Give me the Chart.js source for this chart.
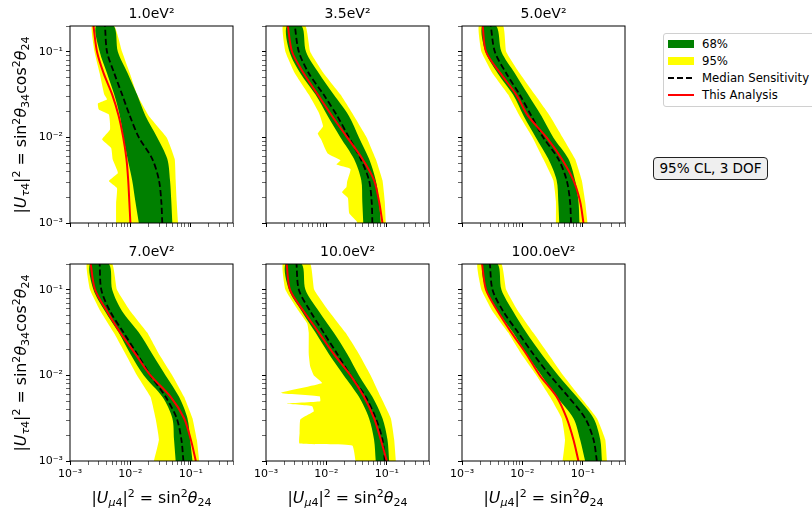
<!DOCTYPE html>
<html>
<head>
<meta charset="utf-8">
<script src="https://cdn.jsdelivr.net/npm/chart.js@4.4.1/dist/chart.umd.min.js"></script>
<style>
  body { margin: 0; width: 812px; height: 512px; position: relative; overflow: hidden; background: #fff;
         font-family: 'DejaVu Sans', sans-serif; color: #000; }
  canvas { position: absolute; }
  .lab { position: absolute; font-size: 15.8px; white-space: nowrap; line-height: 1; }
  .ylab { transform: translate(-50%, -50%) rotate(-90deg); }
  .xlab { transform: translate(-50%, -50%); }
  .lab sub, .lab sup { font-size: 70%; line-height: 0; }
  .lab sup { vertical-align: 0.55em; }
  .lab sub { vertical-align: -0.3em; }
  #legend { position: absolute; left: 663px; top: 33px; width: 152px; height: 72px;
            border: 1px solid #d0d0d0; border-radius: 3px; background: #fff; font-size: 11.7px; }
  #legend .row { position: absolute; left: 38px; transform: translateY(-50%); white-space: nowrap; }
  #legend .sw { position: absolute; left: 4px; width: 25.5px; }
  #cl { position: absolute; left: 653px; top: 157px; width: 113px; height: 21px; border: 1px solid #222;
        border-radius: 4px; background: #efefef; font-size: 13.6px; line-height: 21px; text-align: center; }
</style>
</head>
<body>
<div id="legend">
  <div class="sw" style="top:5.5px;height:8.5px;background:green"></div><div class="row" style="top:9.7px">68%</div>
  <div class="sw" style="top:22.8px;height:8.5px;background:yellow"></div><div class="row" style="top:27px">95%</div>
  <div class="sw" style="top:43.3px;height:1.8px;background:repeating-linear-gradient(90deg,#000 0 6px,transparent 6px 9px)"></div><div class="row" style="top:44.3px">Median Sensitivity</div>
  <div class="sw" style="top:60px;height:1.8px;background:red"></div><div class="row" style="top:61px">This Analysis</div>
</div>
<div id="cl">95% CL, 3 DOF</div>
<script>
// panel titles (sterile mass splitting)
const massLabels = ['1.0eV²', '3.5eV²', '5.0eV²', '7.0eV²', '10.0eV²', '100.0eV²'];

// |U_tau4|^2 levels at which the curves were read (bottom -> top)
const yLevels = [0.001, 0.00178, 0.00316, 0.00562, 0.01, 0.0178, 0.0316, 0.0562, 0.1, 0.2];

// |U_mu4|^2 values at each yLevel, one row per panel
const median = [
  [0.0337, 0.0325, 0.0297, 0.0230, 0.0138, 0.0098, 0.0073, 0.0054, 0.0041, 0.0038],
  [0.0577, 0.0562, 0.0508, 0.0369, 0.0236, 0.0151, 0.0090, 0.0051, 0.0035, 0.0030],
  [0.0639, 0.0615, 0.0541, 0.0393, 0.0221, 0.0141, 0.0090, 0.0054, 0.0035, 0.0030],
  [0.0755, 0.0699, 0.0584, 0.0383, 0.0215, 0.0129, 0.0077, 0.0046, 0.0033, 0.0031],
  [0.0926, 0.0848, 0.0656, 0.0447, 0.0251, 0.0151, 0.0090, 0.0054, 0.0035, 0.0032],
  [0.1711, 0.1506, 0.1094, 0.0577, 0.0286, 0.0151, 0.0085, 0.0048, 0.0032, 0.0029]
];
const observed = [
  [0.0100, 0.0096, 0.0092, 0.0086, 0.0076, 0.0064, 0.0050, 0.0036, 0.0028, 0.00245],
  [0.0848, 0.0745, 0.0615, 0.0393, 0.0221, 0.0124, 0.0072, 0.0042, 0.0027, 0.0023],
  [0.1026, 0.0903, 0.0699, 0.0447, 0.0251, 0.0124, 0.0079, 0.0043, 0.0025, 0.0022],
  [0.1212, 0.1000, 0.0774, 0.0464, 0.0215, 0.0121, 0.0068, 0.0041, 0.0026, 0.0022],
  [0.1000, 0.0794, 0.0615, 0.0419, 0.0251, 0.0132, 0.0075, 0.0042, 0.0025, 0.0022],
  [0.0848, 0.0699, 0.0541, 0.0369, 0.0194, 0.0116, 0.0066, 0.0039, 0.0025, 0.00215]
];
const band68Lo = [
  [0.0138, 0.0121, 0.0107, 0.0090, 0.0077, 0.0067, 0.0054, 0.0041, 0.0031, 0.0027],
  [0.0408, 0.0393, 0.0378, 0.0286, 0.0171, 0.0105, 0.0066, 0.0037, 0.00245, 0.0022],
  [0.0408, 0.0393, 0.0369, 0.0268, 0.0167, 0.0105, 0.0070, 0.0039, 0.00245, 0.00215],
  [0.0562, 0.0528, 0.0495, 0.0338, 0.0167, 0.0100, 0.0064, 0.0038, 0.00245, 0.00215],
  [0.0656, 0.0615, 0.0508, 0.0346, 0.0194, 0.0110, 0.0066, 0.0039, 0.0024, 0.0021],
  [0.1094, 0.0903, 0.0699, 0.0369, 0.0207, 0.0116, 0.0070, 0.0039, 0.0025, 0.0022]
];
const band68Hi = [
  [0.0495, 0.0476, 0.0453, 0.0408, 0.0278, 0.0178, 0.0129, 0.0090, 0.0062, 0.0053],
  [0.0794, 0.0745, 0.0656, 0.0508, 0.0346, 0.0236, 0.0132, 0.0075, 0.0046, 0.0039],
  [0.0880, 0.0848, 0.0745, 0.0577, 0.0325, 0.0207, 0.0124, 0.0075, 0.0045, 0.0037],
  [0.1066, 0.0975, 0.0880, 0.0639, 0.0383, 0.0230, 0.0138, 0.0073, 0.0050, 0.0044],
  [0.1094, 0.1026, 0.0848, 0.0577, 0.0346, 0.0221, 0.0132, 0.0075, 0.0045, 0.0039],
  [0.2074, 0.1945, 0.1506, 0.0794, 0.0393, 0.0207, 0.0116, 0.0070, 0.0045, 0.0039]
];
const band95Hi = [
  [0.0615, 0.0584, 0.0562, 0.0541, 0.0398, 0.0202, 0.0129, 0.0098, 0.0073, 0.0054],
  [0.0962, 0.0926, 0.0848, 0.0656, 0.0464, 0.0286, 0.0171, 0.0090, 0.0054, 0.0045],
  [0.1197, 0.1094, 0.0962, 0.0745, 0.0464, 0.0286, 0.0161, 0.0090, 0.0054, 0.0048],
  [0.1377, 0.1259, 0.1066, 0.0774, 0.0495, 0.0297, 0.0190, 0.0100, 0.0060, 0.0050],
  [0.1413, 0.1325, 0.1166, 0.0794, 0.0541, 0.0346, 0.0207, 0.0110, 0.0063, 0.0054],
  [0.2512, 0.2357, 0.1711, 0.0903, 0.0476, 0.0268, 0.0151, 0.0085, 0.0054, 0.0045]
];
// lower edge of the 95% band is ragged, so it keeps its own [x, y] points (bottom -> top)
const band95Lo = [
  [[0.0058, 0.001], [0.0058, 0.0017], [0.0060, 0.00256], [0.0044, 0.0031], [0.0062, 0.00385], [0.0051, 0.0055],
   [0.0048, 0.0075], [0.0034, 0.0095], [0.0046, 0.0124], [0.0044, 0.0185], [0.0030, 0.0212], [0.0029, 0.0249],
   [0.0041, 0.0277], [0.0037, 0.0316], [0.0031, 0.0562], [0.00255, 0.1], [0.0023, 0.2]],
  [[0.0325, 0.001], [0.0316, 0.00105], [0.0239, 0.0013], [0.0227, 0.00196], [0.0182, 0.00229], [0.0215, 0.00263],
   [0.0221, 0.00307], [0.0251, 0.00428], [0.0147, 0.00481], [0.0171, 0.00541], [0.0105, 0.00648], [0.0082, 0.00945],
   [0.0072, 0.0111], [0.0088, 0.0135], [0.0075, 0.0194], [0.0051, 0.0316], [0.0030, 0.0562], [0.0021, 0.1], [0.0019, 0.2]],
  [[0.0359, 0.001], [0.0359, 0.00178], [0.0325, 0.00316], [0.0221, 0.00562], [0.0147, 0.01], [0.0090, 0.0178],
   [0.0058, 0.0316], [0.0032, 0.0562], [0.0021, 0.1], [0.0019, 0.2]],
  [[0.0245, 0.001], [0.0297, 0.00178], [0.0261, 0.00316], [0.0215, 0.00562], [0.0129, 0.01], [0.0083, 0.0178],
   [0.0053, 0.0316], [0.0032, 0.0562], [0.00215, 0.1], [0.0019, 0.2]],
  [[0.0304, 0.001], [0.0268, 0.00152], [0.0036, 0.0016], [0.0036, 0.00213], [0.0037, 0.00305], [0.0054, 0.00358],
   [0.0062, 0.00381], [0.0058, 0.00437], [0.0021, 0.00469], [0.0079, 0.00499], [0.0077, 0.00571], [0.00175, 0.00624],
   [0.0085, 0.00815], [0.0062, 0.01], [0.0054, 0.0127], [0.0051, 0.0178], [0.0051, 0.0316], [0.0048, 0.0406],
   [0.0035, 0.0562], [0.0021, 0.1], [0.0019, 0.2]],
  [[0.0464, 0.001], [0.0508, 0.00178], [0.0447, 0.00316], [0.0286, 0.00562], [0.0171, 0.01], [0.0096, 0.0178],
   [0.0058, 0.0316], [0.0032, 0.0562], [0.0021, 0.1], [0.0018, 0.2]]
];

const majorTicks = [0.001, 0.01, 0.1];
const tickLabels = ['10⁻³', '10⁻²', '10⁻¹'];

// layout
const plotLeft = [70, 266, 462];
const plotTop = [26, 264];
const plotW = 163, plotH = 197;
const padL = 50, padR = 6, padT = 30, padB = 26;
const font = "'DejaVu Sans', sans-serif";

function logTicks(min, max) {
  const out = [];
  for (let e = -3; e <= 0; e++) {
    for (let m = 1; m <= 9; m++) {
      const v = +(m * Math.pow(10, e)).toPrecision(3);
      if (v >= min * 0.999 && v <= max * 1.001) out.push({ value: v, major: m === 1 });
    }
  }
  return out;
}

function tickLabel(v) {
  const i = majorTicks.findIndex(t => Math.abs(t - v) < t * 1e-6);
  return i >= 0 ? tickLabels[i] : '';
}

function axis(min, max, showLabels, fit) {
  return {
    type: 'logarithmic',
    min: min,
    max: max,
    afterBuildTicks: s => { s.ticks = logTicks(min, max); },
    afterFit: fit,
    grid: {
      drawOnChartArea: false,
      tickLength: 4,
      tickColor: '#000',
      tickWidth: c => (c.tick && c.tick.major) ? 1 : 0.6
    },
    border: { display: false },
    ticks: {
      autoSkip: false, maxRotation: 0, minRotation: 0, padding: 3, color: '#000',
      font: { family: font, size: 11 },
      callback: v => showLabels ? tickLabel(v) : ''
    }
  };
}

const frame = {
  id: 'frame',
  afterDraw(chart) {
    const { ctx, chartArea: a } = chart;
    ctx.save();
    ctx.strokeStyle = '#000';
    ctx.lineWidth = 1;
    ctx.strokeRect(a.left, a.top, a.right - a.left, a.bottom - a.top);
    ctx.restore();
  }
};

const atLevels = xs => xs.map((x, k) => ({ x: x, y: yLevels[k] }));

for (let i = 0; i < 6; i++) {
  const col = i % 3, row = Math.floor(i / 3);
  const cv = document.createElement('canvas');
  cv.width = padL + plotW + padR;
  cv.height = padT + plotH + padB;
  cv.style.left = (plotLeft[col] - padL) + 'px';
  cv.style.top = (plotTop[row] - padT) + 'px';
  cv.style.width = cv.width + 'px';
  cv.style.height = cv.height + 'px';
  document.body.appendChild(cv);

  const poly68 = atLevels(band68Lo[i]).concat(atLevels(band68Hi[i]).reverse());
  const poly95 = band95Lo[i].map(p => ({ x: p[0], y: p[1] })).concat(atLevels(band95Hi[i]).reverse());

  new Chart(cv.getContext('2d'), {
    type: 'line',
    data: {
      datasets: [
        { label: 'This Analysis', data: atLevels(observed[i]), borderColor: 'red', borderWidth: 2,
          tension: 0.3, fill: false, order: 1 },
        { label: 'Median Sensitivity', data: atLevels(median[i]), borderColor: '#000', borderWidth: 1.8,
          borderDash: [6, 3], tension: 0.3, fill: false, order: 2 },
        { label: '68%', data: poly68, borderColor: 'green', borderWidth: 0, backgroundColor: 'green',
          tension: 0.3, fill: 'shape', order: 3 },
        { label: '95%', data: poly95, borderColor: 'yellow', borderWidth: 0, backgroundColor: 'yellow',
          tension: 0.12, fill: 'shape', order: 4 }
      ]
    },
    options: {
      responsive: false,
      animation: false,
      devicePixelRatio: 1,
      layout: { padding: { left: 0, top: 0, right: padR, bottom: 0 } },
      elements: { point: { radius: 0 } },
      plugins: {
        legend: { display: false },
        tooltip: { enabled: false },
        title: {
          display: true, fullSize: false, text: massLabels[i], color: '#000',
          font: { family: font, size: 14, weight: 'normal' },
          padding: { top: 10, bottom: 3.2 }
        }
      },
      scales: {
        x: axis(0.001, 0.5, row === 1, s => { s.height = padB; }),
        y: axis(0.001, 0.2, col === 0, s => { s.width = padL; })
      }
    },
    plugins: [frame]
  });
}

// axis titles
const yTitle = '|<i>U</i><sub><i>τ</i>4</sub>|<sup>2</sup> = sin<sup>2</sup><i>θ</i><sub>34</sub>cos<sup>2</sup><i>θ</i><sub>24</sub>';
const xTitle = '|<i>U</i><sub><i>μ</i>4</sub>|<sup>2</sup> = sin<sup>2</sup><i>θ</i><sub>24</sub>';
for (let r = 0; r < 2; r++) {
  const d = document.createElement('div');
  d.className = 'lab ylab';
  d.innerHTML = yTitle;
  d.style.left = '21px';
  d.style.top = (plotTop[r] + plotH / 2) + 'px';
  document.body.appendChild(d);
}
for (let c = 0; c < 3; c++) {
  const d = document.createElement('div');
  d.className = 'lab xlab';
  d.innerHTML = xTitle;
  d.style.left = (plotLeft[c] + plotW / 2) + 'px';
  d.style.top = '498px';
  document.body.appendChild(d);
}
</script>
</body>
</html>
